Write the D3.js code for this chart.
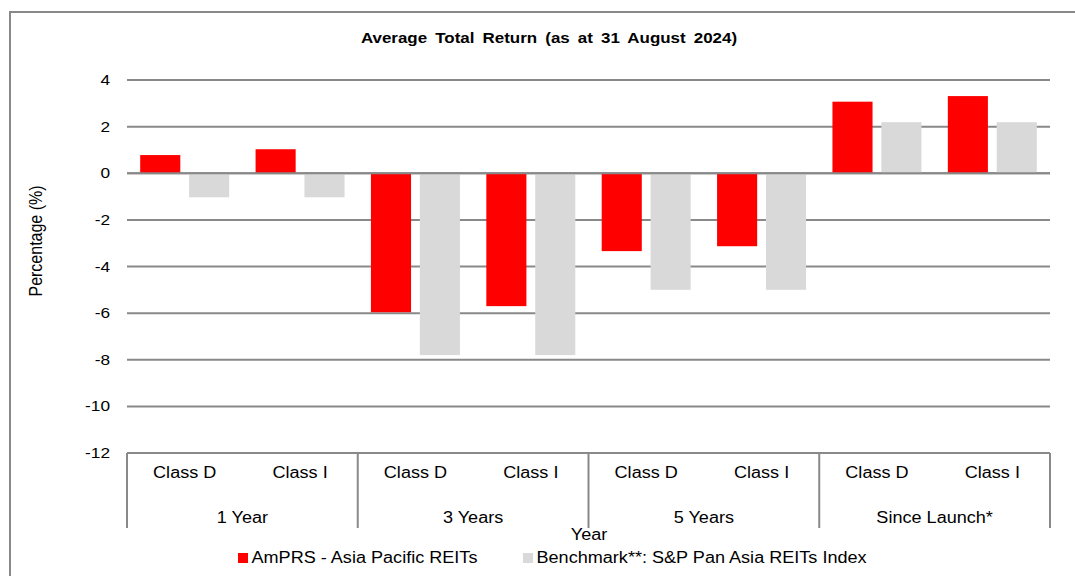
<!DOCTYPE html>
<html>
<head>
<meta charset="utf-8">
<script src="https://cdn.jsdelivr.net/npm/d3@7"></script>
<style>
  body { margin: 0; background: #fff; }
  text { font-family: "Liberation Sans", Arial, sans-serif; fill: #000; }
</style>
</head>
<body>
<svg id="chart" width="1075" height="576"></svg>
<script>
// data
var periods = ["1 Year", "3 Years", "5 Years", "Since Launch*"];
var classes = ["Class D", "Class I"];
var fundValues = [0.78, 1.03, -5.96, -5.7, -3.34, -3.13, 3.07, 3.31];
var benchValues = [-1.03, -1.03, -7.8, -7.8, -5.0, -5.0, 2.19, 2.19];
var seriesNames = ["AmPRS - Asia Pacific REITs", "Benchmark**: S&P Pan Asia REITs Index"];
var yTicks = [4, 2, 0, -2, -4, -6, -8, -10, -12];

var svg = d3.select("#chart");
var plot = { left: 127, right: 1050, top: 80, bottom: 453 };
var red = "#ff0000", grey = "#d9d9d9", lineCol = "#898989";
var sx = 1.13; // the picture's text is a little wider than the font

// text helper: places a horizontally stretched label
function label(parent, x, y, str, size, anchor, scale) {
  return parent.append("text")
    .attr("transform", "translate(" + x + "," + y + ") scale(" + (scale || sx) + ",1)")
    .attr("text-anchor", anchor || "middle")
    .attr("font-size", size)
    .text(str);
}

// outer frame
svg.append("rect")
  .attr("x", 10).attr("y", 12)
  .attr("width", 1100).attr("height", 600)
  .attr("fill", "none").attr("stroke", lineCol).attr("stroke-width", 2);

// categories: one per period/class pair
var cats = [];
periods.forEach(function (p) {
  classes.forEach(function (c) { cats.push(p + "|" + c); });
});

var x = d3.scaleBand().domain(cats).range([plot.left, plot.right]);
var y = d3.scaleLinear().domain([-12, 4]).range([plot.bottom, plot.top]);
var inner = d3.scaleBand().domain([0, 1])
  .range([0, x.bandwidth()]).paddingInner(0.18).paddingOuter(0.27);

// gridlines
svg.append("g").selectAll("line")
  .data(yTicks)
  .enter().append("line")
  .attr("x1", plot.left).attr("x2", plot.right)
  .attr("y1", function (d) { return y(d); })
  .attr("y2", function (d) { return y(d); })
  .attr("stroke", lineCol).attr("stroke-width", 2);

// y tick labels
var yl = svg.append("g");
yTicks.forEach(function (d) {
  label(yl, 110, y(d) + 5, d, 15, "end", 1.15);
});

// bars
var rows = cats.map(function (c, i) {
  return { cat: c, vals: [fundValues[i], benchValues[i]] };
});
var colours = [red, grey];
var g = svg.append("g");
rows.forEach(function (r) {
  r.vals.forEach(function (v, k) {
    g.append("rect")
      .attr("x", x(r.cat) + inner(k))
      .attr("width", inner.bandwidth())
      .attr("y", y(Math.max(0, v)))
      .attr("height", Math.abs(y(v) - y(0)))
      .attr("fill", colours[k]);
  });
});

// zero line on top
svg.append("line")
  .attr("x1", plot.left).attr("x2", plot.right)
  .attr("y1", y(0)).attr("y2", y(0))
  .attr("stroke", lineCol).attr("stroke-width", 2);

// category axis: class labels, period labels and dividers
var groupW = x.bandwidth() * classes.length;
var ax = svg.append("g");
cats.forEach(function (d) {
  label(ax, x(d) + x.bandwidth() / 2, 478, d.split("|")[1], 16);
});
periods.forEach(function (d, i) {
  label(ax, plot.left + groupW * (i + 0.5), 523, d, 16);
});

svg.append("g").selectAll("line")
  .data(d3.range(periods.length + 1))
  .enter().append("line")
  .attr("x1", function (i) { return plot.left + groupW * i; })
  .attr("x2", function (i) { return plot.left + groupW * i; })
  .attr("y1", plot.bottom).attr("y2", 528)
  .attr("stroke", lineCol).attr("stroke-width", 2);

// titles
label(svg, 549, 43, "Average Total Return (as at 31 August 2024)", 15)
  .attr("font-weight", "bold").attr("word-spacing", 3);

svg.append("text")
  .attr("transform", "translate(42,241) rotate(-90) scale(1,1.1)")
  .attr("text-anchor", "middle").attr("font-size", 16)
  .text("Percentage (%)");

label(svg, 589, 540, "Year", 16);

// legend
var legendX = [238, 523];
seriesNames.forEach(function (name, k) {
  svg.append("rect")
    .attr("x", legendX[k]).attr("y", 553)
    .attr("width", 10).attr("height", 10)
    .attr("fill", colours[k]);
  label(svg, legendX[k] + 13.5, 563, name, 16, "start");
});
</script>
</body>
</html>
